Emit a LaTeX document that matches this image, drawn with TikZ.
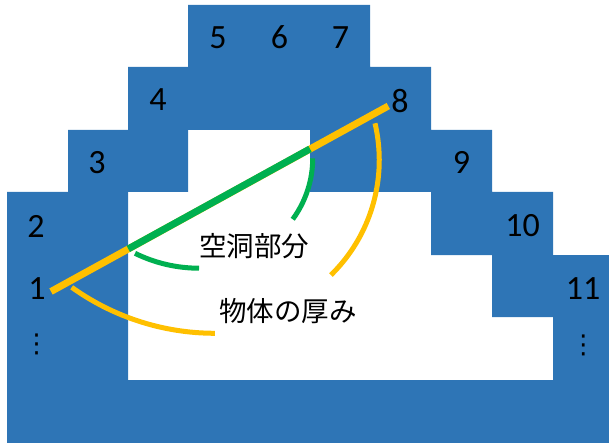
\documentclass[tikz,border=0pt]{standalone}
\usepackage{fontspec}
\setmainfont{Carlito}
\newfontfamily\jp{Noto Sans CJK JP}
\newfontfamily\symfont{DejaVu Sans}
\definecolor{cellblue}{HTML}{2E75B6}
\definecolor{hollowgreen}{HTML}{00B050}
\definecolor{thickyellow}{HTML}{FFC000}
\begin{document}
\begin{tikzpicture}[x=1pt,y=-1pt,
  num/.style={inner sep=0pt, text=black, font=\fontsize{34}{40}\selectfont},
  vdot/.style={inner sep=0pt, text=black, font=\symfont\fontsize{26}{30}\selectfont},
  jplabel/.style={inner sep=0pt, text=black, font=\jp\fontsize{27.5}{32}\selectfont},
  bar/.style={line width=7pt, line cap=butt},
  bracearc/.style={line width=5pt, line cap=butt}]
\useasboundingbox (0,0) rectangle (609,443);
% blue stepped body with hollow
\fill[cellblue, even odd rule]
  (7,443) -- (7,192) -- (68,192) -- (68,130) -- (128,130) -- (128,67) -- (188,67) -- (188,5)
  -- (370,5) -- (370,67) -- (431,67) -- (431,130) -- (492,130) -- (492,192) -- (553,192)
  -- (553,255) -- (609,255) -- (609,443) -- cycle
  (188,130) -- (310,130) -- (310,192) -- (431,192) -- (431,255) -- (492,255) -- (492,317)
  -- (553,317) -- (553,380) -- (128,380) -- (128,192) -- (188,192) -- cycle;
% numbers
\node[num] (n5) at (218,37.5) {5};
\node[num] (n6) at (279.5,37.5) {6};
\node[num] (n7) at (340.5,37.5) {7};
\node[num] (n4) at (158,100) {4};
\node[num] (n8) at (400,101) {8};
\node[num] (n3) at (97,163) {3};
\node[num] (n9) at (461.5,162.5) {9};
\node[num] (n2) at (36,226) {2};
\node[num] (n10) at (522.7,226) {10};
\node[num] (n1) at (37,289) {1};
\node[num] (n11) at (583,289) {11};
\node[vdot] (dl) at (36.7,344) {⋮};
\node[vdot] (dr) at (583.3,345) {⋮};
% labels
\node[jplabel] (hollow) at (254,246) {空洞部分};
\node[jplabel] (thick) at (288,311) {物体の厚み};
% line of sight
\coordinate (a) at (51,291.5);
\coordinate (b) at (388.3,106);
\coordinate (g1) at (128.3,248.9);
\coordinate (g2) at (310,148.9);
\draw[bar, thickyellow] (a) -- (b);
\draw[bar, hollowgreen] (g1) -- (g2);
% arcs
\coordinate (gl) at (135,253.3);
\coordinate (gr) at (312.7,158.3);
\coordinate (yl) at (71.7,287.3);
\coordinate (yr) at (375,123.3);
\draw[bracearc, hollowgreen] (gl) arc[start angle=116.2, end angle=90, radius=145];
\draw[bracearc, hollowgreen] (gr) arc[start angle=0, end angle=36.3, radius=103];
\draw[bracearc, thickyellow] (yl) arc[start angle=125.6, end angle=90, radius=246];
\draw[bracearc, thickyellow] (yr) arc[start angle=-13.2, end angle=45.6, radius=161];
\end{tikzpicture}
\end{document}
